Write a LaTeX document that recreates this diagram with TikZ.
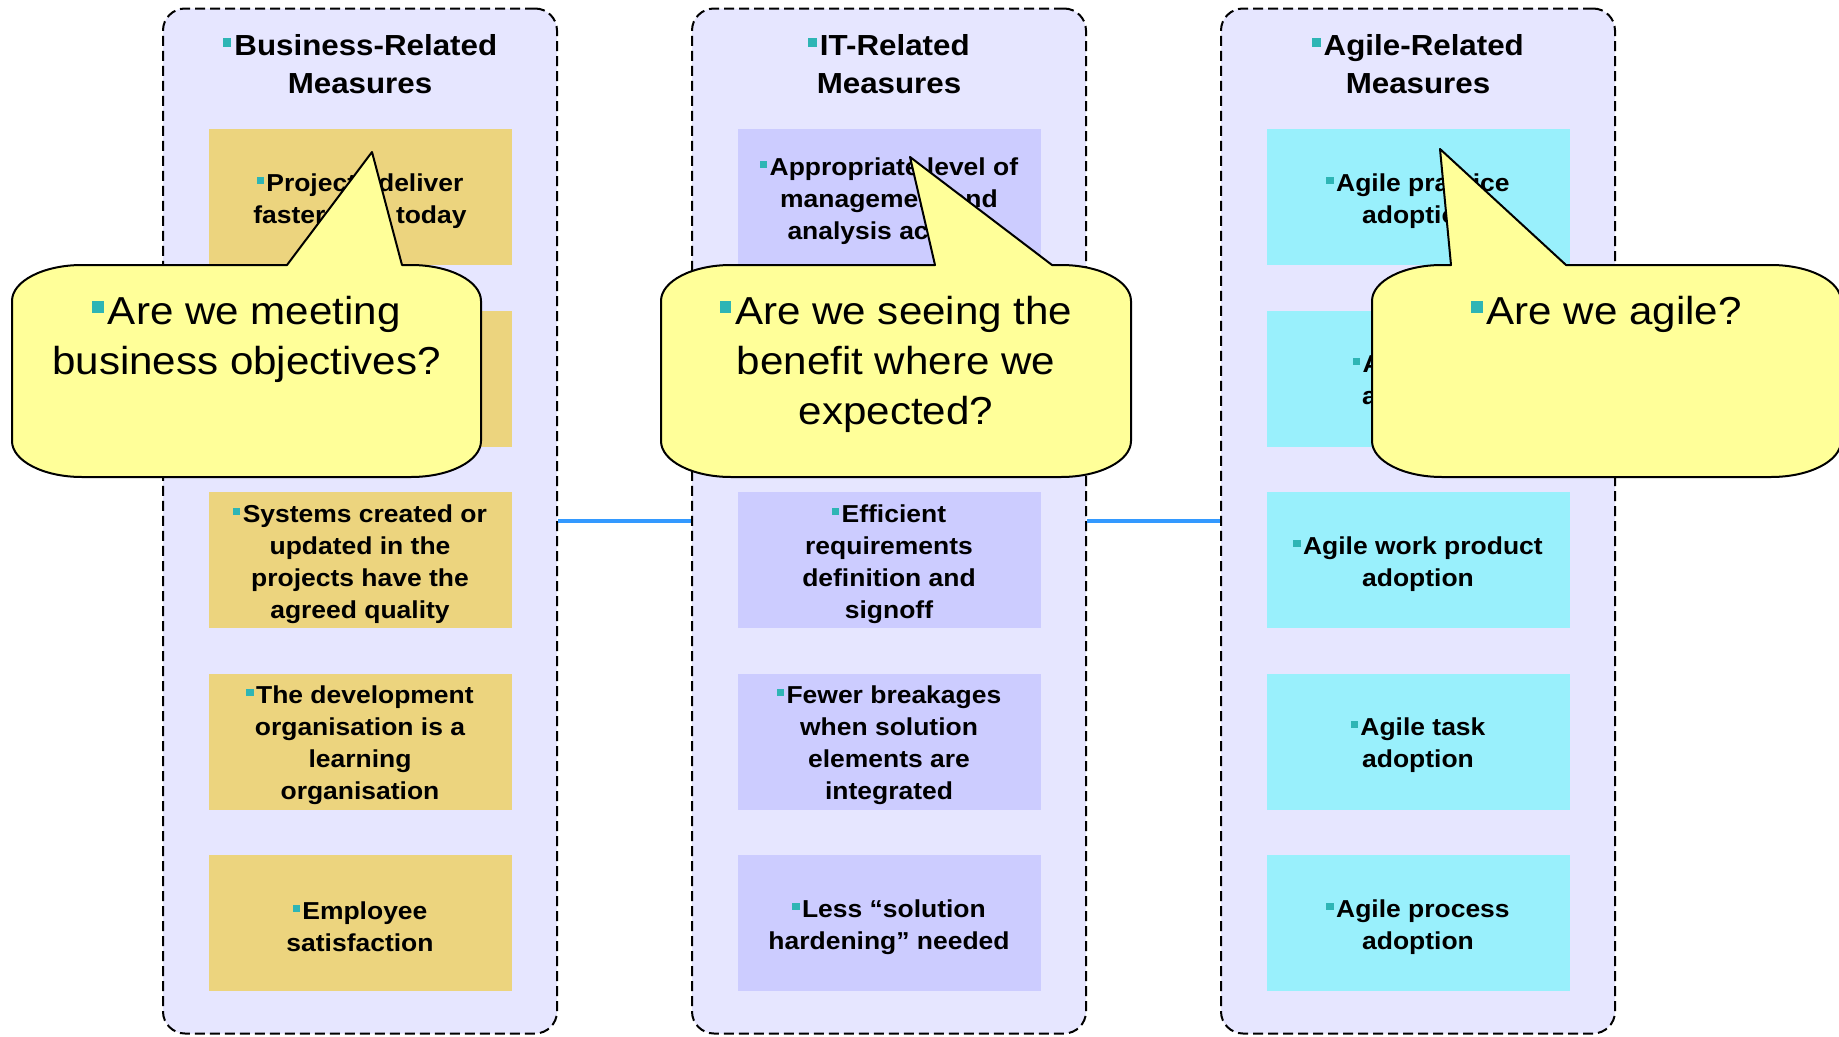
\documentclass[tikz,border=0pt]{standalone}
\usepackage{fontspec}
\setmainfont{Liberation Sans}[FakeStretch=1.08]
\usepackage{tikz}

\definecolor{colfill}{HTML}{E6E6FF}
\definecolor{bizfill}{HTML}{ECD47E}
\definecolor{itfill}{HTML}{CCCCFF}
\definecolor{agilefill}{HTML}{99F0FC}
\definecolor{notefill}{HTML}{FFFF99}
\definecolor{bulletcol}{HTML}{2EB5B5}
\definecolor{linkblue}{HTML}{3399FF}

\newcommand\blt{{\color{bulletcol}\rule[0.3em]{0.3em}{0.3em}}\hspace{0.1em}}
\newcommand\headfont{\fontsize{29}{38}\selectfont\bfseries}
\newcommand\boxfont{\fontsize{24.5}{32}\selectfont\bfseries}
\newcommand\notefont{\fontsize{39}{50}\selectfont}

\tikzset{
	measurecol/.style={draw, fill=colfill, line width=2pt, dash pattern=on 10pt off 5pt,
		rounded corners=22pt, minimum width=394pt, minimum height=1025pt},
	header/.style={anchor=north, inner sep=0pt, align=center, font=\headfont},
	measurebox/.style={minimum width=303pt, minimum height=136pt, inner sep=0pt},
	boxtext/.style={inner sep=0pt, align=center, font=\boxfont, yshift=-4pt},
	bizbox/.style={measurebox, fill=bizfill},
	itbox/.style={measurebox, fill=itfill},
	agilebox/.style={measurebox, fill=agilefill},
	link/.style={draw=linkblue, line width=4pt},
	callout/.style={draw, fill=notefill, line width=2pt, line join=round},
	notetext/.style={anchor=north, inner sep=0pt, align=center, font=\notefont}
}

\begin{document}
\begin{tikzpicture}[x=1pt,y=-1pt]
	\useasboundingbox (0,0) rectangle (1839,1036);

	% the three columns
	\node[measurecol] (biz) at (360,521) {};
	\node[measurecol] (it) at (889,521) {};
	\node[measurecol] (agile) at (1418,521) {};

	\draw[link] (biz.east) -- (it.west);
	\draw[link] (it.east) -- (agile.west);

	\node[header] (bizhead) at (360,34) {\blt Business-Related\\Measures};
	\node[header] (ithead) at (889,34) {\blt IT-Related\\Measures};
	\node[header] (agilehead) at (1418,34) {\blt Agile-Related\\Measures};

	% business measures
	\node[bizbox, label={[boxtext]center:{\blt Projects deliver\\faster than today}}] (biz1) at (360,197) {};
	\node[bizbox] (biz2) at (360,378.5) {};
	\node[bizbox, label={[boxtext]center:{\blt Systems created or\\updated in the\\projects have the\\agreed quality}}] (biz3) at (360,560) {};
	\node[bizbox, label={[boxtext]center:{\blt The development\\organisation is a\\learning\\organisation}}] (biz4) at (360,741.5) {};
	\node[bizbox, label={[boxtext]center:{\blt Employee\\satisfaction}}] (biz5) at (360,923) {};

	% IT measures
	\node[itbox, label={[boxtext]center:{\blt Appropriate level of\\management and\\analysis activity}}] (it1) at (889,197) {};
	\node[itbox] (it2) at (889,378.5) {};
	\node[itbox, label={[boxtext]center:{\blt Efficient\\requirements\\definition and\\signoff}}] (it3) at (889,560) {};
	\node[itbox, label={[boxtext]center:{\blt Fewer breakages\\when solution\\elements are\\integrated}}] (it4) at (889,741.5) {};
	\node[itbox, label={[boxtext]center:{\blt Less “solution\\hardening” needed}}] (it5) at (889,923) {};

	% agile measures
	\node[agilebox, label={[boxtext]center:{\blt Agile practice\\adoption}}] (agile1) at (1418,197) {};
	\node[agilebox, label={[boxtext]center:{\blt Agile role\\adoption}}] (agile2) at (1418,378.5) {};
	\node[agilebox, label={[boxtext]center:{\blt Agile work product\\adoption}}] (agile3) at (1418,560) {};
	\node[agilebox, label={[boxtext]center:{\blt Agile task\\adoption}}] (agile4) at (1418,741.5) {};
	\node[agilebox, label={[boxtext]center:{\blt Agile process\\adoption}}] (agile5) at (1418,923) {};

	% speech bubbles
	\draw[callout] (82,265) -- (287,265) -- (372,152) -- (402,265) -- (411,265)
		arc[start angle=-90, end angle=0, x radius=70, y radius=36] -- (481,441)
		arc[start angle=0, end angle=90, x radius=70, y radius=36] -- (82,477)
		arc[start angle=90, end angle=180, x radius=70, y radius=36] -- (12,301)
		arc[start angle=180, end angle=270, x radius=70, y radius=36] -- cycle;
	\node[notetext] (note1) at (246.5,296) {\blt Are we meeting\\business objectives?};

	\draw[callout] (731,265) -- (935,265) -- (910,157) -- (1052,265) -- (1061,265)
		arc[start angle=-90, end angle=0, x radius=70, y radius=36] -- (1131,441)
		arc[start angle=0, end angle=90, x radius=70, y radius=36] -- (731,477)
		arc[start angle=90, end angle=180, x radius=70, y radius=36] -- (661,301)
		arc[start angle=180, end angle=270, x radius=70, y radius=36] -- cycle;
	\node[notetext] (note2) at (896,296) {\blt Are we seeing the\\benefit where we\\expected?};

	\draw[callout] (1442,265) -- (1451,265) -- (1440,149) -- (1566,265) -- (1771,265)
		arc[start angle=-90, end angle=0, x radius=70, y radius=36] -- (1841,441)
		arc[start angle=0, end angle=90, x radius=70, y radius=36] -- (1442,477)
		arc[start angle=90, end angle=180, x radius=70, y radius=36] -- (1372,301)
		arc[start angle=180, end angle=270, x radius=70, y radius=36] -- cycle;
	\node[notetext] (note3) at (1606.5,296) {\blt Are we agile?};
\end{tikzpicture}
\end{document}
